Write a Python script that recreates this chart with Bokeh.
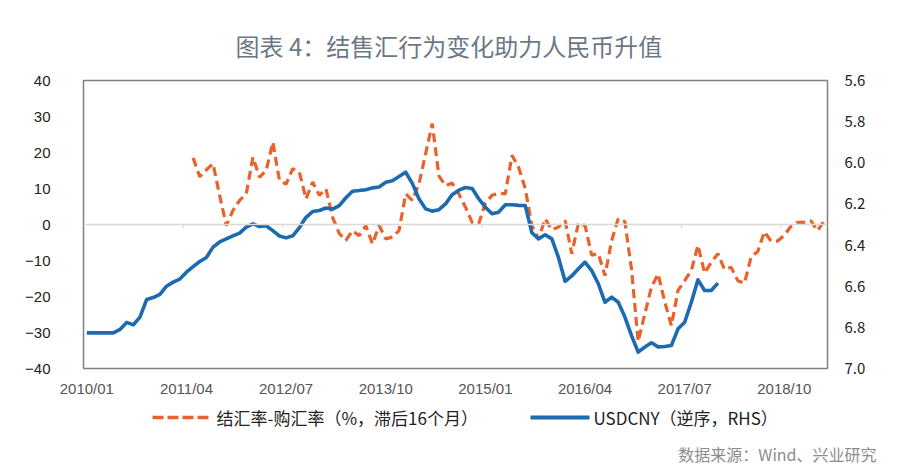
from bokeh.plotting import figure
from bokeh.models import (Range1d, LinearAxis, FixedTicker, Span, NumeralTickFormatter)
from bokeh.core.properties import value
from bokeh.embed import file_html
from bokeh.resources import INLINE

# ---------------- data ----------------
months = [f"{y}/{m:02d}" for y in range(2010, 2020) for m in range(1, 13)][:112]   # 2010/01 .. 2019/04
tick_labels = ["2010/01", "2011/04", "2012/07", "2013/10", "2015/01", "2016/04", "2017/07", "2018/10"]

# USDCNY (RHS, reversed axis), 2010/01 .. 2017/12
usdcny = [6.827, 6.827, 6.827, 6.827, 6.827, 6.81, 6.776, 6.788, 6.75, 6.665,
          6.655, 6.64, 6.60, 6.58, 6.565, 6.532, 6.505, 6.48, 6.46, 6.41,
          6.385, 6.37, 6.355, 6.342, 6.313, 6.297, 6.31, 6.306, 6.33, 6.356,
          6.365, 6.355, 6.315, 6.265, 6.237, 6.232, 6.22, 6.225, 6.208, 6.17,
          6.138, 6.135, 6.131, 6.122, 6.118, 6.095, 6.087, 6.067, 6.046, 6.10,
          6.175, 6.224, 6.235, 6.228, 6.20, 6.155, 6.133, 6.12, 6.125, 6.175,
          6.216, 6.248, 6.24, 6.204, 6.204, 6.207, 6.208, 6.34, 6.37, 6.35,
          6.37, 6.46, 6.576, 6.55, 6.515, 6.483, 6.524, 6.588, 6.678, 6.653,
          6.678, 6.75, 6.84, 6.92, 6.896, 6.875, 6.895, 6.893, 6.888, 6.807,
          6.775, 6.678, 6.569, 6.621, 6.621, 6.585]
usdcny_start = "2010/01"

# 结汇率-购汇率 (%, lagged 16 months), plotted from 2011/05 .. 2019/04
fx_spread = [18.5, 13.3, 15.2, 16.9, 8.0, -0.3, 3.9, 6.7, 8.5, 18.7,
             13.1, 15.0, 22.9, 12.2, 11.2, 15.5, 14.5, 7.1, 11.8, 8.1,
             9.9, 2.0, -2.5, -4.4, -1.7, -3.1, -0.3, -5.4, -0.3, -4.0,
             -3.5, -1.7, 8.5, 6.7, 11.3, 19.6, 28.0, 13.5, 10.8, 11.5,
             8.5, 4.8, 0.6, 0.2, 6.0, 8.1, 8.7, 8.5, 19.2, 15.9,
             10.0, -0.3, -4.0, 1.6, -1.5, -0.7, 1.1, -8.1, 0.3, -0.3,
             -8.5, -8.1, -14.2, -4.5, 1.6, 0.8, -12.5, -32.5, -24.8, -17.4,
             -13.7, -21.5, -28.1, -18.3, -15.6, -12.8, -5.8, -13.5, -10.5, -8.1,
             -12.5, -11.9, -15.6, -16.3, -9.0, -7.5, -2.0, -4.6, -4.6, -3.0,
             -0.5, 0.6, 0.6, 1.0, -1.7, 1.0]
fx_spread_start = "2011/05"

left_ticks = [-40, -30, -20, -10, 0, 10, 20, 30, 40]
right_ticks = [5.6, 5.8, 6.0, 6.2, 6.4, 6.6, 6.8, 7.0]

title_text = "图表 4：结售汇行为变化助力人民币升值"
legend_fx = "结汇率-购汇率（%，滞后16个月）"
legend_usd = "USDCNY（逆序，RHS）"
source_text = "数据来源：Wind、兴业研究"

# ---------------- main chart ----------------
ORANGE = "#E9622B"
BLUE = "#1C6AB0"
CJK = "Noto Sans CJK SC"
W = 896

n = len(months)
p = figure(frame_width=744, frame_height=288, output_backend="svg", toolbar_location=None,
           x_range=Range1d(-0.5, n - 0.5), y_range=Range1d(left_ticks[0], left_ticks[-1]),
           min_border_left=83, min_border_right=69, min_border_top=80, min_border_bottom=30,
           background_fill_color="white", border_fill_color="white")
p.extra_y_ranges = {"rhs": Range1d(start=right_ticks[-1], end=right_ticks[0])}
p.xgrid.grid_line_color = None
p.ygrid.grid_line_color = None
p.outline_line_color = "#808080"
p.outline_line_width = 1.5

# title
p.title.text = title_text
p.title.align = "left"
p.title.offset = 152
p.title.standoff = 36
p.title.text_font = CJK
p.title.text_font_size = "24px"
p.title.text_font_style = "normal"
p.title.text_color = "#6b7886"

# zero line with small category tick marks
p.add_layout(Span(location=0, dimension="width", line_color="#d9d9d9", line_width=1.5))
tick_idx = [months.index(t) for t in tick_labels]
bounds = [i - 0.5 for i in tick_idx[1:]]
p.segment(x0=bounds, y0=[0] * len(bounds), x1=bounds, y1=[-1.0] * len(bounds),
          line_color="#d0d0d0", line_width=1)

# series
u0 = months.index(usdcny_start)
ux = list(range(u0, u0 + len(usdcny)))
f0 = months.index(fx_spread_start)
fx = list(range(f0, f0 + len(fx_spread)))

p.line(fx, fx_spread, line_color=ORANGE, line_width=3.2, line_dash="9 5")
p.line(ux, usdcny, line_color=BLUE, line_width=3.6, y_range_name="rhs", line_join="round")

# axes
for ax in (p.xaxis[0], p.yaxis[0]):
    ax.axis_line_color = None
    ax.major_tick_line_color = None
    ax.minor_tick_line_color = None

p.xaxis.ticker = FixedTicker(ticks=tick_idx)
p.xaxis.major_label_overrides = {i: t for i, t in zip(tick_idx, tick_labels)}
p.xaxis.major_label_text_font = "Liberation Sans"
p.xaxis.major_label_text_font_size = "15px"
p.xaxis.major_label_text_color = "#555555"
p.xaxis.major_label_standoff = 5

p.yaxis.ticker = FixedTicker(ticks=left_ticks)
p.yaxis.major_label_text_font = "Liberation Sans"
p.yaxis.major_label_text_font_size = "15px"
p.yaxis.major_label_text_color = "#222222"
p.yaxis.major_label_standoff = 27

rax = LinearAxis(y_range_name="rhs", ticker=FixedTicker(ticks=right_ticks),
                 formatter=NumeralTickFormatter(format="0.0"))
rax.axis_line_color = None
rax.major_tick_line_color = None
rax.minor_tick_line_color = None
rax.major_label_text_font = CJK
rax.major_label_text_font_size = "15px"
rax.major_label_text_color = "#222222"
rax.major_label_standoff = 11
p.add_layout(rax, "right")

# ---------------- legend + source strip (separate root, full-width frame) ----------------
H2 = 70
q = figure(frame_width=W, frame_height=H2, output_backend="svg", toolbar_location=None,
           x_range=Range1d(0, W), y_range=Range1d(0, H2),
           min_border=0, x_axis_type=None, y_axis_type=None,
           background_fill_color="white", border_fill_color="white")
q.outline_line_color = None
q.xgrid.grid_line_color = None
q.ygrid.grid_line_color = None

ly = 52
q.line([152, 208], [ly, ly], line_color=ORANGE, line_width=3.6, line_dash="11 4")
q.line([530, 589], [ly, ly], line_color=BLUE, line_width=3.8)
q.text(x=[216, 593], y=[ly, ly], text=[legend_fx, legend_usd],
       text_font=value(CJK), text_font_size="17px", text_color="#222222",
       text_baseline="middle", text_align="left")
q.text(x=[876], y=[16], text=[source_text],
       text_font=value(CJK), text_font_size="16px", text_color="#8c8c8c",
       text_baseline="middle", text_align="right")

open("out.html", "w").write(file_html([p, q], INLINE))
